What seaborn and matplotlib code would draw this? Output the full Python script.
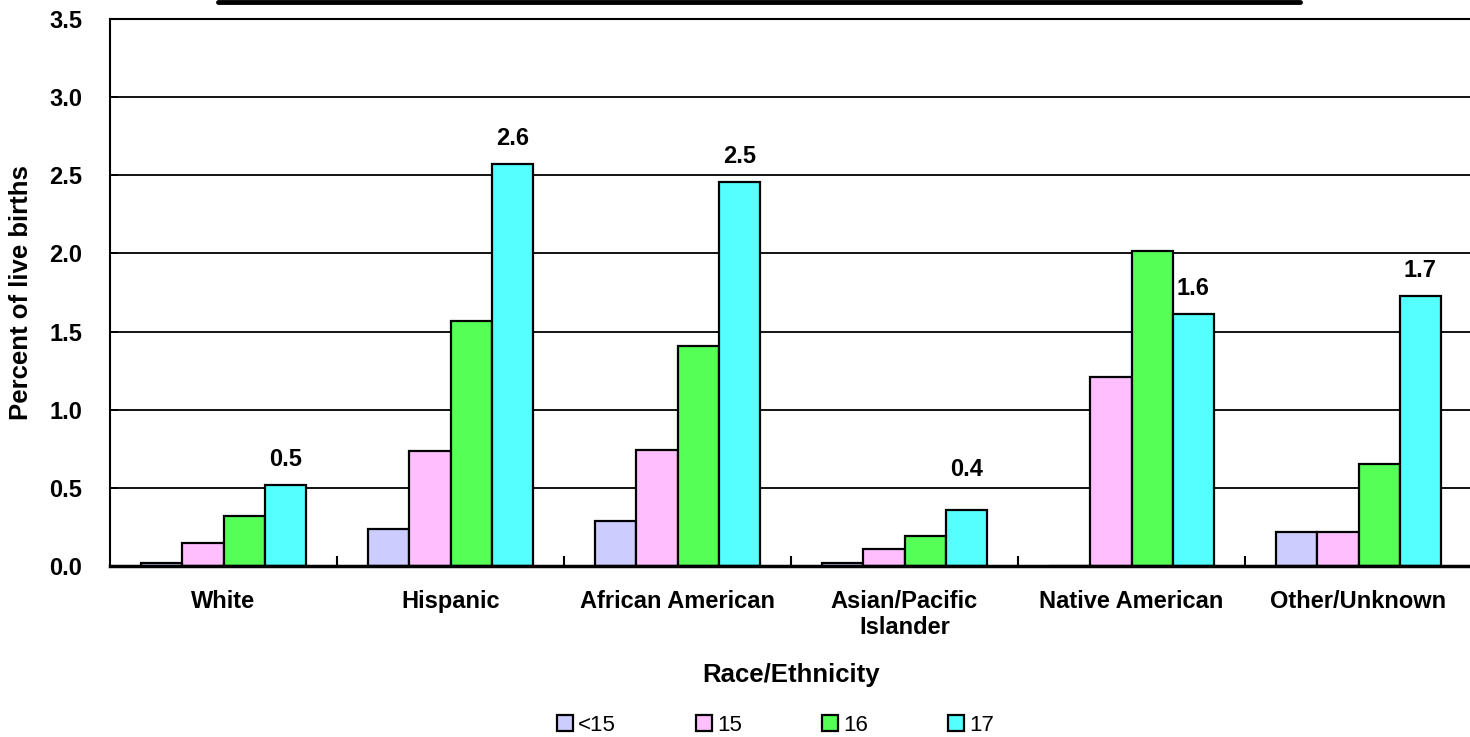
import pandas as pd
import matplotlib
matplotlib.use("Agg")
import matplotlib.pyplot as plt
import seaborn as sns
from matplotlib.lines import Line2D

# Datos
grupos = ["White", "Hispanic", "African American", "Asian/Pacific\nIslander",
          "Native American", "Other/Unknown"]
edades = ["<15", "15", "16", "17"]
menor_15 = [0.02, 0.235, 0.29, 0.02, 0.0, 0.22]
edad_15 = [0.145, 0.735, 0.74, 0.11, 1.21, 0.22]
edad_16 = [0.32, 1.57, 1.41, 0.19, 2.015, 0.65]
edad_17 = [0.52, 2.57, 2.46, 0.36, 1.61, 1.73]
etiquetas_17 = ["0.5", "2.6", "2.5", "0.4", "1.6", "1.7"]
colores = ["#CCCCFF", "#FFBFFF", "#55FF55", "#55FFFF"]

filas = []
for edad, vals in zip(edades, [menor_15, edad_15, edad_16, edad_17]):
    for g, v in zip(grupos, vals):
        filas.append({"grupo": g, "edad": edad, "pct": v})
datos = pd.DataFrame(filas)

sns.set_style("white")
plt.rcParams["font.family"] = ["Liberation Sans", "DejaVu Sans"]
plt.rcParams["text.color"] = "black"
plt.rcParams["axes.labelcolor"] = "black"
plt.rcParams["xtick.color"] = "black"
plt.rcParams["ytick.color"] = "black"

fig = plt.figure(figsize=(14.7, 7.37), dpi=100)
ax = fig.add_axes([110 / 1470, 1 - 566 / 737, 1362 / 1470, 547 / 737])

sns.barplot(data=datos, x="grupo", y="pct", hue="edad", order=grupos,
            hue_order=edades, palette=colores, width=0.727, gap=0,
            edgecolor="black", linewidth=1.6, saturation=1, ax=ax)

ax.set_ylim(0, 3.5)
ax.set_xlim(-0.5, 5.5)
ax.set_yticks([0, 0.5, 1.0, 1.5, 2.0, 2.5, 3.0, 3.5])
ax.set_yticklabels([f"{t:.1f}" for t in ax.get_yticks()], fontweight="bold", fontsize=17)
ax.yaxis.grid(True, color="black", linewidth=1.3)
ax.set_axisbelow(True)
ax.tick_params(axis="y", direction="in", length=6, width=1.3, left=True, pad=20)
ax.tick_params(axis="x", length=0, pad=17)
ax.set_xticks(range(len(grupos)))
ax.set_xticklabels(grupos, fontweight="bold", fontsize=17)
ax.set_xticks([0.5, 1.5, 2.5, 3.5, 4.5], minor=True)
ax.tick_params(axis="x", which="minor", direction="in", length=7, width=1.5, bottom=True)

for lado in ["left", "top", "right"]:
    ax.spines[lado].set_color("black")
    ax.spines[lado].set_linewidth(1.5)
ax.spines["bottom"].set_color("black")
ax.spines["bottom"].set_linewidth(2.5)

ax.set_xlabel("Race/Ethnicity", fontweight="bold", fontsize=18.5, labelpad=17)
ax.set_ylabel("Percent of live births", fontweight="bold", fontsize=18.5, labelpad=12)

# Etiquetas de la serie 17 (la de 0.4 va mas arriba para no pisar la rejilla)
separacion = [10, 10, 10, 21, 10, 10]
for barra, texto, sep in zip(ax.containers[3], etiquetas_17, separacion):
    ax.annotate(texto, (barra.get_x() + barra.get_width() / 2, barra.get_height()),
                xytext=(0, sep), textcoords="offset points", ha="center", va="bottom",
                fontweight="bold", fontsize=17)

ax.legend(loc="center", bbox_to_anchor=(0.4886, -0.291),
          ncol=4, frameon=False, fontsize=16, handlelength=0.7, handleheight=0.7,
          handletextpad=0.25, columnspacing=3.6)

# Linea negra superior (borde del titulo recortado)
fig.add_artist(Line2D([218 / 1470, 1300 / 1470], [1 - 1.5 / 737, 1 - 1.5 / 737],
                      color="black", linewidth=3.5))

plt.savefig("out.png", dpi=100)
plt.close()
